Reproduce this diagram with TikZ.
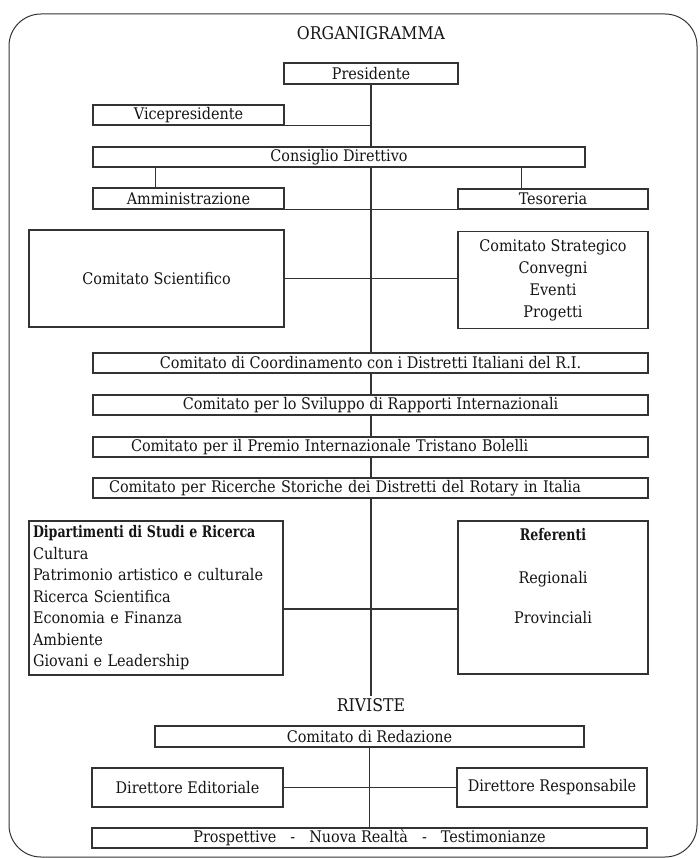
\documentclass[tikz,border=0pt]{standalone}
\usepackage{fontspec}
\usepackage{graphicx}
\setmainfont{DejaVu Serif Condensed}
\usetikzlibrary{calc}
\definecolor{linec}{HTML}{333333}
\definecolor{txtc}{HTML}{151515}
\newcommand\mainfs{\fontsize{16}{21.5}\selectfont}
\newcommand\condbf[1]{\scalebox{0.875}[1]{\textbf{#1}}}
\tikzset{
  box/.style={draw=linec, line width=1.1pt, fill=white, inner sep=0pt, font=\mainfs, text=txtc},
  conn/.style={draw=linec, line width=1.1pt},
  frame/.style={draw=linec, line width=1pt, rounded corners=32pt},
  title/.style={font=\fontsize{17.5}{20}\selectfont, text=txtc, inner sep=2pt},
  txt/.style={font=\mainfs, text=txtc, inner sep=0pt}
}
\begin{document}
\begin{tikzpicture}[x=1pt,y=-1pt]
\useasboundingbox (0,0) rectangle (700,858);
\draw[frame] (9,14) rectangle (697,857);
\node[title] (title) at (371,33) {ORGANIGRAMMA};
\node[box, minimum width=174pt, minimum height=21pt] (pres) at (371,73.5) {Presidente};
\node[box, minimum width=191pt, minimum height=20pt] (vice) at (188.5,115) {Vicepresidente};
\node[box, minimum width=492pt, minimum height=20pt] (cons) at (339,157) {Consiglio Direttivo};
\node[box, minimum width=191pt, minimum height=21pt] (amm) at (188.5,198.5) {Amministrazione};
\node[box, minimum width=190pt, minimum height=20pt] (tes) at (553,199) {Tesoreria};
\node[box, minimum width=255pt, minimum height=97pt] (cs) at (156.5,278.5) {Comitato Scientifico};
\node[box, minimum width=190pt, minimum height=97pt, align=center, font=\fontsize{16}{22}\selectfont] (strat) at (553,280) {Comitato Strategico\\Convegni\\Eventi\\Progetti};
\node[box, minimum width=555pt, minimum height=20pt] (coord) at (370.5,363) {Comitato di Coordinamento con i Distretti Italiani del R.I.};
\node[box, minimum width=555pt, minimum height=20pt] (svil) at (370.5,405) {Comitato per lo Sviluppo di Rapporti Internazionali};
\node[box, text width=479pt, inner xsep=38pt, align=left, minimum height=20pt] (prem) at (370.5,447) {Comitato per il Premio Internazionale Tristano Bolelli};
\node[box, text width=523pt, inner xsep=16pt, align=left, minimum height=20pt] (ric) at (370.5,488) {Comitato per Ricerche Storiche dei Distretti del Rotary in Italia};
\node[box, minimum width=254pt, minimum height=154pt, text width=246pt, inner xsep=4pt, align=left] (dip) at (156,598) {\condbf{Dipartimenti di Studi e Ricerca}\\Cultura\\Patrimonio artistico e culturale\\Ricerca Scientifica\\Economia e Finanza\\Ambiente\\Giovani e Leadership};
\node[box, minimum width=190pt, minimum height=153pt] (ref) at (553,597.5) {};
\node[txt, align=center] (reft) at (553,576) {\condbf{Referenti}\\[22pt]Regionali\\[18pt]Provinciali};
\node[title] (riv) at (371,705) {RIVISTE};
\node[box, minimum width=429pt, minimum height=21pt] (red) at (369.5,736.5) {Comitato di Redazione};
\node[box, minimum width=191pt, minimum height=39pt] (edit) at (187.5,787.5) {Direttore Editoriale};
\node[box, minimum width=190pt, minimum height=39pt] (resp) at (552,787.5) {Direttore Responsabile};
\node[box, minimum width=555pt, minimum height=20pt] (prosp) at (369.5,838) {Prospettive\hspace{14pt}-\hspace{14pt}Nuova Realtà\hspace{14pt}-\hspace{14pt}Testimonianze};
% connectors
\draw[conn] (pres.south) -- (pres.south |- cons.north);
\draw[conn] (vice.south east) -- (vice.south east -| pres.south);
\coordinate (ca) at ($(amm.north west)!0.33!(amm.north east)$);
\draw[conn] (ca) -- (ca |- cons.south);
\coordinate (ct) at ($(tes.north west)!0.337!(tes.north east)$);
\draw[conn] (ct) -- (ct |- cons.south);
\draw[conn] (amm.south east) -- (tes.south west);
\draw[conn] (cons.south -| pres.south) -- (coord.north -| pres.south);
\draw[conn] (cs.east) -- (cs.east -| strat.west);
\draw[conn] (coord.south -| pres.south) -- (svil.north -| pres.south);
\draw[conn] (svil.south -| pres.south) -- (prem.north -| pres.south);
\draw[conn] (prem.south -| pres.south) -- (ric.north -| pres.south);
\draw[conn] (ric.south -| pres.south) -- (riv.north);
\coordinate (dl) at ($(dip.north east)!0.571!(dip.south east)$);
\draw[conn] (dl) -- (dl -| ref.west);
\draw[conn] (red.south) -- (prosp.north);
\draw[conn] (edit.east) -- (resp.west);
\end{tikzpicture}
\end{document}
